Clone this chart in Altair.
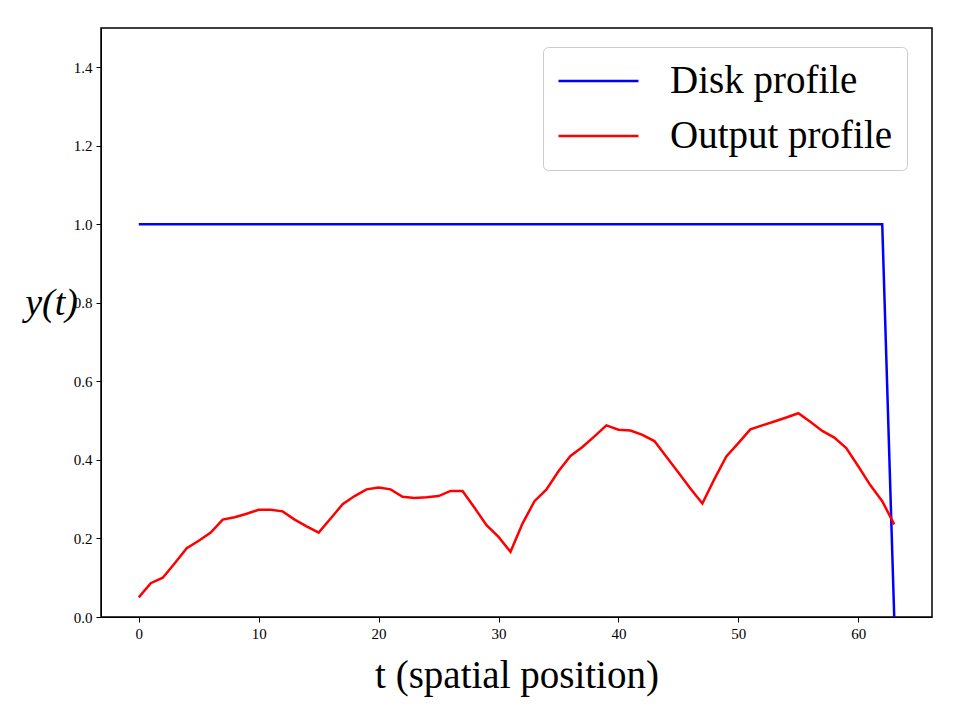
import altair as alt
import pandas as pd

t_values = list(range(64))
disk_profile = [1.0] * 63 + [0.0]
output_profile = [
    0.050, 0.086, 0.100, 0.137, 0.175, 0.194, 0.215, 0.248, 0.254, 0.263,
    0.273, 0.273, 0.269, 0.248, 0.231, 0.215, 0.251, 0.287, 0.308, 0.325,
    0.330, 0.325, 0.306, 0.303, 0.305, 0.308, 0.321, 0.321, 0.278, 0.234,
    0.204, 0.166, 0.238, 0.295, 0.325, 0.371, 0.410, 0.433, 0.460, 0.488,
    0.477, 0.475, 0.464, 0.448, 0.408, 0.368, 0.327, 0.289, 0.351, 0.409,
    0.443, 0.478, 0.488, 0.498, 0.508, 0.519, 0.497, 0.474, 0.457, 0.430,
    0.384, 0.336, 0.295, 0.236,
]
series_names = ["Disk profile", "Output profile"]
series_colors = ["#0000ff", "#ff0000"]
x_ticks = [0, 10, 20, 30, 40, 50, 60]
y_ticks = [0.0, 0.2, 0.4, 0.6, 0.8, 1.0, 1.2, 1.4]

rows = []
for name, vals in zip(series_names, [disk_profile, output_profile]):
    for i, (t, v) in enumerate(zip(t_values, vals)):
        rows.append({"t": t, "y": v, "series": name, "order": i})
df = pd.DataFrame(rows)

FONT = "Liberation Serif"

chart = (
    alt.Chart(df)
    .mark_line(strokeWidth=2.5)
    .encode(
        x=alt.X(
            "t:Q",
            scale=alt.Scale(domain=[-3.15, 66.15], nice=False, zero=False),
            axis=alt.Axis(
                values=x_ticks,
                format="d",
                title="t (spatial position)",
                titleFont=FONT,
                titleFontSize=39,
                titleFontWeight="normal",
                titleColor="black",
                titleY=70,
                titleBaseline="alphabetic",
                labelFont=FONT,
                labelFontSize=15,
                labelColor="black",
                labelPadding=4,
                tickSize=5,
                tickColor="black",
                domainColor="black",
                grid=False,
            ),
        ),
        y=alt.Y(
            "y:Q",
            scale=alt.Scale(domain=[0, 1.5], nice=False),
            axis=alt.Axis(
                values=y_ticks,
                format=".1f",
                title="y(t)",
                titleFont=FONT,
                titleFontStyle="italic",
                titleFontSize=38,
                titleFontWeight="normal",
                titleColor="black",
                titleAngle=0,
                titleAlign="center",
                titleBaseline="middle",
                titleX=-50,
                titleY=275,
                labelFont=FONT,
                labelFontSize=15,
                labelColor="black",
                labelPadding=4,
                tickSize=5,
                tickColor="black",
                domainColor="black",
                grid=False,
            ),
        ),
        color=alt.Color(
            "series:N",
            scale=alt.Scale(domain=series_names, range=series_colors),
            legend=alt.Legend(
                title=None,
                orient="none",
                legendX=442,
                legendY=19,
                symbolType="stroke",
                symbolSize=6400,
                symbolStrokeWidth=2.5,
                clipHeight=40,
                labelFont=FONT,
                labelFontSize=39,
                labelColor="black",
                labelLimit=500,
                labelOffset=30,
                rowPadding=15,
                padding=14,
                fillColor="white",
                strokeColor="#cccccc",
                cornerRadius=5,
            ),
        ),
        order="order:Q",
    )
    .properties(
        width=831,
        height=589,
        background="white",
        autosize=alt.AutoSizeParams(type="none"),
        padding={"left": 101, "top": 28, "right": 28, "bottom": 103},
    )
    .configure_view(stroke="black", strokeWidth=1.5)
)

chart.save("out.html", embed_options={"renderer": "svg", "actions": False})
